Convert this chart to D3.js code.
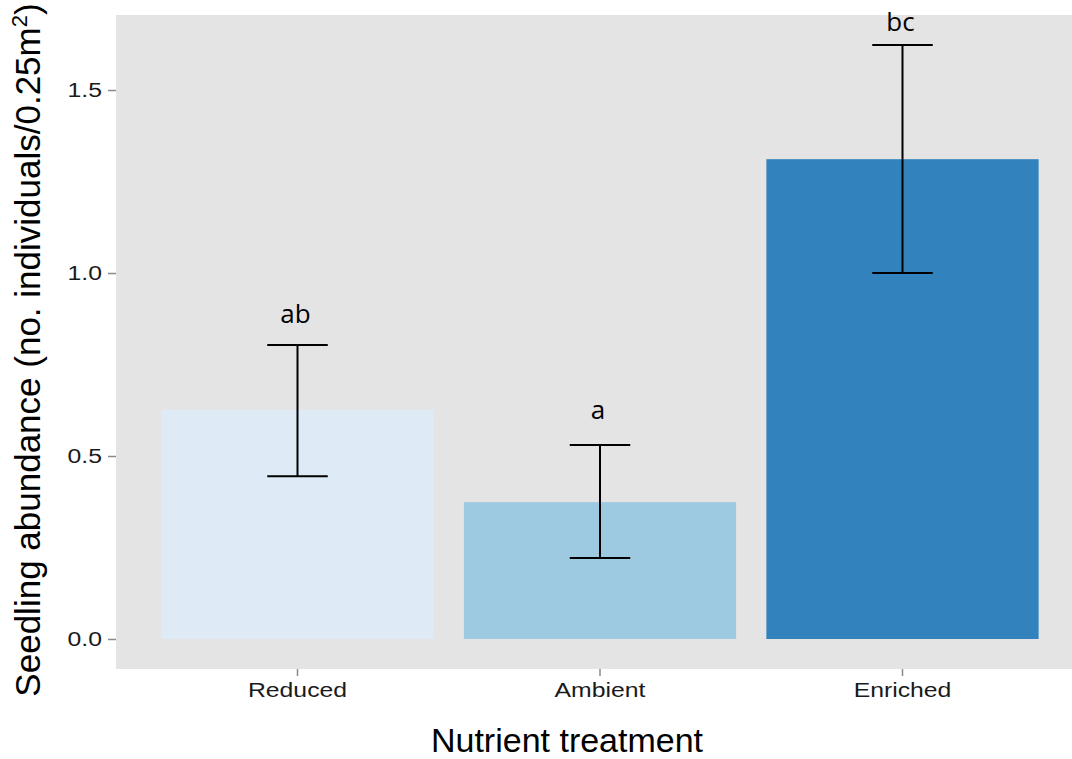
<!DOCTYPE html>
<html>
<head>
<meta charset="utf-8">
<script src="https://cdn.jsdelivr.net/npm/d3@7"></script>
<style>
  body { margin: 0; background: #fff; }
  svg { display: block; }
</style>
</head>
<body>
<svg id="chart"></svg>
<script>
// data
const treatments = ['Reduced', 'Ambient', 'Enriched'];
const means = [0.626, 0.374, 1.311];
const errLow = [0.445, 0.221, 1.0];
const errHigh = [0.803, 0.530, 1.623];
const letters = ['ab', 'a', 'bc'];
const letterY = [0.863, 0.600, 1.660];
const barColors = ['#deebf7', '#9ecae1', '#3182bd'];
const yTicks = [0, 0.5, 1.0, 1.5];

const width = 1072, height = 759;
const panel = { left: 116, top: 15, right: 1084, bottom: 669 };
const stretch = 1.18; // tick labels in the reference look a bit wide

const svg = d3.select('#chart').attr('width', width).attr('height', height);

const x = d3.scaleBand()
  .domain(treatments)
  .range([panel.left, panel.right])
  .paddingInner(0.1)
  .paddingOuter(0.15);

const y = d3.scaleLinear()
  .domain([-0.082, 1.705])
  .range([panel.bottom, panel.top]);

// panel background
svg.append('rect')
  .attr('x', panel.left)
  .attr('y', panel.top)
  .attr('width', panel.right - panel.left)
  .attr('height', panel.bottom - panel.top)
  .attr('fill', '#e4e4e4');

// bars
svg.append('g').selectAll('rect')
  .data(treatments)
  .enter()
  .append('rect')
  .attr('x', d => x(d))
  .attr('width', x.bandwidth())
  .attr('y', (d, i) => y(means[i]))
  .attr('height', (d, i) => y(0) - y(means[i]))
  .attr('fill', (d, i) => barColors[i]);

// error bars
const capHalf = x.step() * 0.1;
const errG = svg.append('g')
  .attr('stroke', '#000')
  .attr('stroke-width', 2)
  .attr('fill', 'none');
treatments.forEach((t, i) => {
  const cx = x(t) + x.bandwidth() / 2;
  errG.append('line')
    .attr('x1', cx).attr('x2', cx)
    .attr('y1', y(errLow[i])).attr('y2', y(errHigh[i]));
  [errLow[i], errHigh[i]].forEach(v => {
    errG.append('line')
      .attr('x1', cx - capHalf).attr('x2', cx + capHalf)
      .attr('y1', y(v)).attr('y2', y(v));
  });
});

// significance letters
svg.append('g').selectAll('text')
  .data(treatments)
  .enter()
  .append('text')
  .attr('x', d => x(d) + x.bandwidth() / 2 - 2)
  .attr('y', (d, i) => y(letterY[i]))
  .attr('text-anchor', 'middle')
  .style('font-family', '"Open Sans", "Noto Sans", sans-serif')
  .style('font-size', '26px')
  .attr('fill', '#000')
  .text((d, i) => letters[i]);

// y axis
const yAxis = svg.append('g')
  .attr('transform', `translate(${panel.left},0)`)
  .call(d3.axisLeft(y).tickValues(yTicks).tickFormat(d3.format('.1f')).tickSize(8).tickPadding(6));
yAxis.select('.domain').remove();
yAxis.selectAll('.tick line').attr('stroke', '#8a8a8a').attr('stroke-width', 1.5);
yAxis.selectAll('.tick text')
  .attr('x', -14 / stretch)
  .attr('transform', `scale(${stretch},1)`)
  .style('font-family', '"Liberation Sans", Arial, sans-serif')
  .style('font-size', '21px')
  .attr('fill', '#1a1a1a');

// x axis
const xAxis = svg.append('g')
  .attr('transform', `translate(0,${panel.bottom})`)
  .call(d3.axisBottom(x).tickSize(7).tickPadding(6));
xAxis.select('.domain').remove();
xAxis.selectAll('.tick line').attr('stroke', '#8a8a8a').attr('stroke-width', 1.5);
xAxis.selectAll('.tick text')
  .attr('transform', `scale(${stretch},1)`)
  .style('font-family', '"Liberation Sans", Arial, sans-serif')
  .style('font-size', '21px')
  .attr('fill', '#1a1a1a');

// axis titles
svg.append('text')
  .attr('x', 567)
  .attr('y', 752)
  .attr('text-anchor', 'middle')
  .style('font-family', '"Liberation Sans", Arial, sans-serif')
  .style('font-size', '34px')
  .attr('fill', '#000')
  .text('Nutrient treatment');

const yTitle = svg.append('text')
  .attr('transform', 'translate(40,350) rotate(-90)')
  .attr('text-anchor', 'middle')
  .style('font-family', '"Liberation Sans", Arial, sans-serif')
  .style('font-size', '35px')
  .attr('fill', '#000');
yTitle.append('tspan').text('Seedling abundance (no. individuals/0.25m');
yTitle.append('tspan').attr('dy', -13).style('font-size', '22px').text('2');
yTitle.append('tspan').attr('dy', 13).text(')');
</script>
</body>
</html>
